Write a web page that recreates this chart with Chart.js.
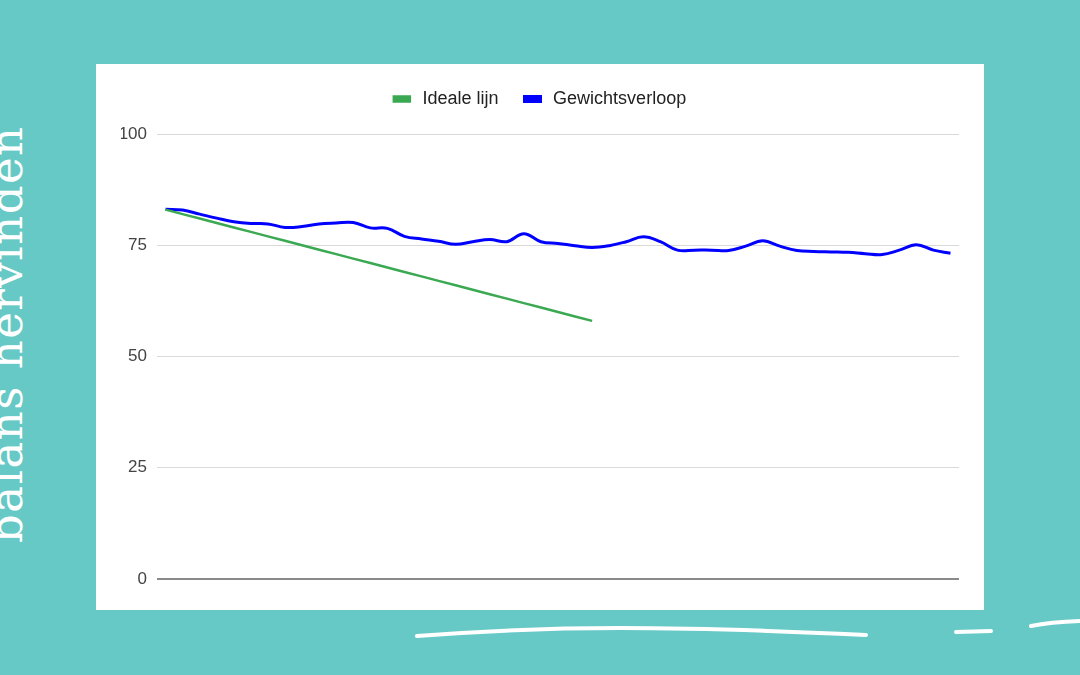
<!DOCTYPE html>
<html>
<head>
<meta charset="utf-8">
<script src="https://cdn.jsdelivr.net/npm/chart.js@4"></script>
<style>
  html, body { margin: 0; padding: 0; }
  body { width: 1080px; height: 675px; background: #67c9c6; position: relative; overflow: hidden; }
  #card { position: absolute; left: 96px; top: 64px; width: 888px; height: 546px; background: #fff; }
  #side {
    position: absolute; left: 0; top: 0; white-space: nowrap;
    font-family: "DejaVu Serif", serif; font-size: 45px; line-height: 45px; color: #fff;
    letter-spacing: 1.5px;
    transform-origin: 0 0; transform: translate(-16px, 543px) rotate(-90deg);
  }
  #brush { position: absolute; left: 0; top: 0; }
</style>
</head>
<body>
<div id="side">balans hervinden</div>
<svg id="brush" width="1080" height="675">
  <path d="M417 636 Q520 628 620 628 T866 635" stroke="#fff" stroke-width="4" fill="none" stroke-linecap="round"/>
  <path d="M956 632 L991 631" stroke="#fff" stroke-width="4" fill="none" stroke-linecap="round"/>
  <path d="M1031 626 Q1050 622 1080 621" stroke="#fff" stroke-width="4" fill="none" stroke-linecap="round"/>
</svg>
<div id="card"><canvas id="weightChart"></canvas></div>
<script>
// weeks 1..47
const weeks = Array.from({ length: 47 }, (_, i) => "Week " + (i + 1));

// ideale lijn: 1 kg per week, stops after week 26
const idealeLijn = [
  83, 82, 81, 80, 79, 78, 77, 76, 75, 74, 73, 72, 71, 70, 69, 68, 67, 66, 65, 64,
  63, 62, 61, 60, 59, 58
];

const gewichtsverloop = [
  83.1, 82.9, 82.0, 81.1, 80.3, 79.9, 79.8, 79.0, 79.2, 79.8,
  80.0, 80.1, 78.9, 78.8, 77.0, 76.4, 75.9, 75.2, 75.8, 76.3,
  75.8, 77.6, 75.8, 75.4, 74.9, 74.5, 74.9, 75.8, 76.9, 75.8,
  73.9, 73.9, 73.9, 73.8, 74.8, 76.0, 74.8, 73.8, 73.6, 73.5,
  73.4, 73.1, 72.9, 73.9, 75.1, 73.9, 73.2
];

const yTicks = [0, 25, 50, 75, 100];

// extra room between the legend and the plot
const legendGap = {
  id: "legendGap",
  beforeInit(chart) {
    const fit = chart.legend.fit;
    chart.legend.fit = function () {
      fit.bind(chart.legend)();
      this.height += 16;
    };
  },
};

const config = {
  type: "line",
  data: {
    labels: weeks,
    datasets: [
      {
        label: "Ideale lijn",
        data: idealeLijn,
        borderColor: "#3aa952",
        backgroundColor: "#3aa952",
        borderWidth: 2.5,
        pointRadius: 0,
        tension: 0,
      },
      {
        label: "Gewichtsverloop",
        data: gewichtsverloop,
        borderColor: "#0000ff",
        backgroundColor: "#0000ff",
        borderWidth: 3,
        pointRadius: 0,
        tension: 0.4,
      },
    ],
  },
  options: {
    responsive: true,
    maintainAspectRatio: false,
    animation: false,
    layout: { padding: { top: 0, right: 25, bottom: 31, left: 25 } },
    plugins: {
      legend: {
        position: "top",
        labels: {
          boxWidth: 16,
          boxHeight: 5,
          padding: 26,
          color: "#222",
          font: { family: "Liberation Sans, Arial, sans-serif", size: 18 },
          generateLabels: (chart) =>
            Chart.defaults.plugins.legend.labels.generateLabels(chart).map((item) => {
              item.text = "\u2009" + item.text;
              return item;
            }),
        },
      },
      tooltip: { enabled: false },
    },
    scales: {
      x: { type: "category", display: false, offset: true },
      y: {
        min: 0,
        max: 100,
        afterBuildTicks: (scale) => { scale.ticks = yTicks.map((v) => ({ value: v })); },
        afterFit: (scale) => { scale.width = 36; },
        border: { display: false },
        grid: {
          drawTicks: false,
          color: (ctx) => (ctx.tick.value === 0 ? "#8a8a8a" : "#d9d9d9"),
          lineWidth: (ctx) => (ctx.tick.value === 0 ? 2 : 1),
        },
        ticks: {
          padding: 10,
          color: "#444",
          font: { family: "Liberation Sans, Arial, sans-serif", size: 17 },
        },
      },
    },
  },
  plugins: [legendGap],
};

new Chart("weightChart", config);
</script>
</body>
</html>
